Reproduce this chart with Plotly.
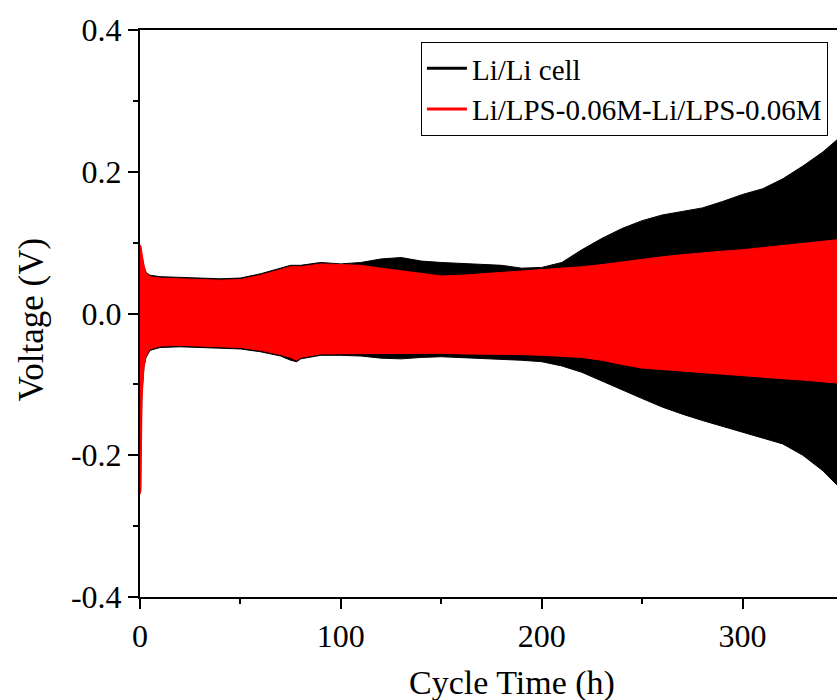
# symmetric Li cell cycling - voltage vs cycle time
# bands drawn as upper / lower envelopes of the oscillation
##############################################################
import plotly.graph_objects as go

# time points (h)
TIME = [0, 0.5, 1, 2, 3, 5, 10, 20, 30, 40, 50, 60, 70, 75, 78, 80, 90,
        100, 110, 120, 130, 140, 150, 160, 170, 180, 190, 200, 210, 220,
        230, 240, 250, 260, 270, 280, 290, 300, 310, 320, 330, 340, 347]

# Li/Li cell envelope (V)
LI_UPPER = [0.090, 0.088, 0.080, 0.066, 0.058, 0.054, 0.052, 0.051, 0.050,
            0.049, 0.050, 0.056, 0.064, 0.068, 0.068, 0.068, 0.072,
            0.070, 0.072, 0.077, 0.079, 0.074, 0.072, 0.071, 0.070, 0.068,
            0.064, 0.065, 0.072, 0.090, 0.106, 0.120, 0.131, 0.139, 0.144,
            0.149, 0.158, 0.168, 0.176, 0.190, 0.208, 0.228, 0.245]
LI_LOWER = [-0.200, -0.190, -0.110, -0.075, -0.062, -0.052, -0.048, -0.047,
            -0.048, -0.049, -0.050, -0.054, -0.060, -0.066, -0.068, -0.064,
            -0.059, -0.059, -0.060, -0.063, -0.064, -0.062, -0.061, -0.062,
            -0.063, -0.065, -0.066, -0.068, -0.074, -0.083, -0.096, -0.108,
            -0.120, -0.132, -0.142, -0.151, -0.160, -0.167, -0.176, -0.184,
            -0.200, -0.222, -0.242]

# Li/LPS-0.06M symmetric cell envelope (V)
LPS_UPPER = [0.097, 0.095, 0.085, 0.068, 0.058, 0.052, 0.050, 0.049, 0.048,
             0.047, 0.048, 0.054, 0.062, 0.066, 0.066, 0.066, 0.070,
             0.069, 0.068, 0.064, 0.060, 0.057, 0.053, 0.054, 0.056, 0.057,
             0.059, 0.062, 0.064, 0.066, 0.069, 0.073, 0.077, 0.080, 0.083,
             0.086, 0.088, 0.090, 0.093, 0.095, 0.098, 0.101, 0.104]
LPS_LOWER = [-0.255, -0.250, -0.120, -0.075, -0.060, -0.050, -0.046, -0.045,
             -0.046, -0.047, -0.048, -0.052, -0.058, -0.062, -0.066, -0.062,
             -0.057, -0.057, -0.057, -0.057, -0.056, -0.056, -0.056, -0.057,
             -0.057, -0.058, -0.058, -0.059, -0.060, -0.062, -0.066, -0.072,
             -0.077, -0.080, -0.082, -0.084, -0.086, -0.088, -0.090, -0.092,
             -0.094, -0.096, -0.098]

SERIES_NAMES = ['Li/Li cell', 'Li/LPS-0.06M-Li/LPS-0.06M']
COLORS = ['#000000', '#ff0000']

X_TICKS = [0, 100, 200, 300]
Y_TICKS = [-0.4, -0.2, 0.0, 0.2, 0.4]
Y_TICK_TEXT = ['-0.4', '-0.2', '0.0', '0.2', '0.4']

FONT = 'Liberation Serif'


def band(upper, lower, color):
  """closed polygon: upper envelope forward, lower envelope back"""
  return go.Scatter(
      x=TIME + TIME[::-1],
      y=upper + lower[::-1],
      mode='lines',
      fill='toself',
      fillcolor=color,
      line=dict(color=color, width=1),
      showlegend=False,
      hoverinfo='skip',
  )


fig = go.Figure()
fig.add_trace(band(LI_UPPER, LI_LOWER, COLORS[0]))
fig.add_trace(band(LPS_UPPER, LPS_LOWER, COLORS[1]))

# legend only entries (line samples)
for name, color in zip(SERIES_NAMES, COLORS):
  fig.add_trace(go.Scatter(x=[None], y=[None], mode='lines', name=name,
                           line=dict(color=color, width=3)))

axis_common = dict(
    showline=True, linecolor='black', linewidth=2,
    ticks='outside', ticklen=10, tickwidth=2, tickcolor='black',
    showgrid=False, zeroline=False,
    tickfont=dict(family=FONT, size=32, color='black'),
)

fig.update_xaxes(range=[0, 347], tickvals=X_TICKS, mirror=True,
                 minor=dict(ticks='outside', ticklen=5, tickwidth=2,
                            tickcolor='black', dtick=50, tick0=0),
                 **axis_common)
fig.update_yaxes(range=[-0.4, 0.4], tickvals=Y_TICKS, ticktext=Y_TICK_TEXT,
                 mirror=False,
                 minor=dict(ticks='outside', ticklen=5, tickwidth=2,
                            tickcolor='black', dtick=0.1, tick0=0),
                 **axis_common)

# axis titles as annotations (x title sits right of centre in the original)
fig.add_annotation(text='Cycle Time (h)', xref='paper', yref='paper',
                   x=0.534, y=-0.152, showarrow=False,
                   xanchor='center', yanchor='middle',
                   font=dict(family=FONT, size=34, color='black'))
fig.add_annotation(text='Voltage (V)', xref='paper', yref='paper',
                   x=-0.156, y=0.49, showarrow=False, textangle=-90,
                   xanchor='center', yanchor='middle',
                   font=dict(family=FONT, size=35, color='black'))

fig.update_layout(
    width=837, height=700,
    margin=dict(l=140, r=0, t=30, b=103),
    plot_bgcolor='white', paper_bgcolor='white',
    legend=dict(x=0.987, y=0.979, xanchor='right', yanchor='top',
                bordercolor='black', borderwidth=1, bgcolor='white',
                font=dict(family=FONT, size=29, color='black'),
                itemwidth=40, tracegroupgap=0),
)

# page margin off so the figure sits at 0,0 in the window
fig.write_html('out.html', config={'displayModeBar': False},
               post_script="document.body.style.margin='0';")
